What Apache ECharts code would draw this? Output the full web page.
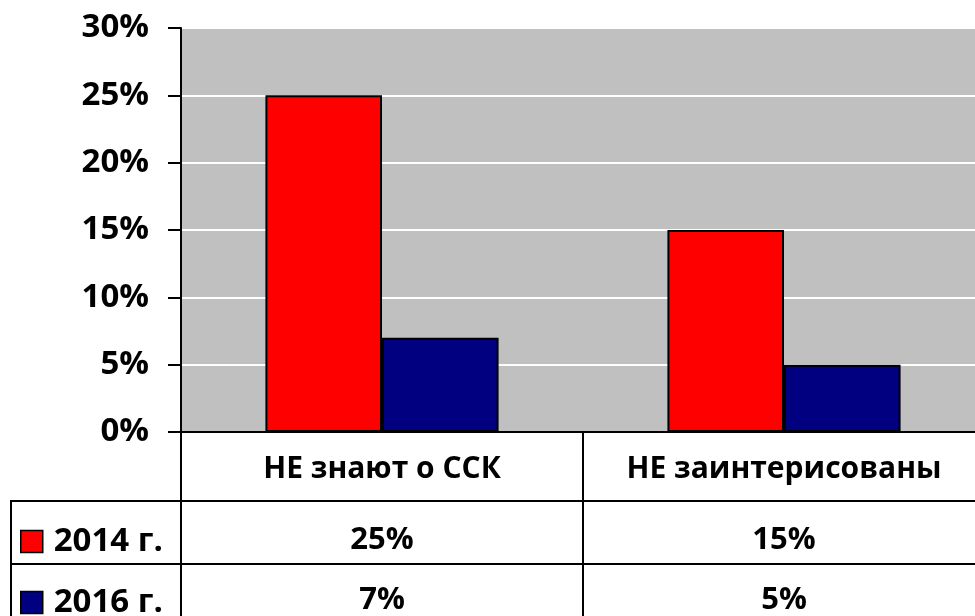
<!DOCTYPE html>
<html><head><meta charset="utf-8">
<script src="https://cdn.jsdelivr.net/npm/echarts@6/dist/echarts.min.js"></script>
<style>html,body{margin:0;padding:0;background:#fff}#c{width:975px;height:616px}</style>
</head><body><div id="c"></div>
<script>
var categories = ['НЕ знают о ССК', 'НЕ заинтерисованы'];
var seriesNames = ['2014 г.', '2016 г.'];
var values2014 = [25, 15];
var values2016 = [7, 5];
var yTicks = { min: 0, max: 30, interval: 5 };

var FONT = 'Open Sans';
var FS = 30;
var chart = echarts.init(document.getElementById('c'));
var labelBase = { fontFamily: FONT, fontWeight: 'bold', fontSize: FS, color: '#000' };

chart.setOption({
  animation: false,
  grid: { left: 181, top: 28, width: 804, height: 404, outerBoundsMode: 'none', containLabel: false,
    show: true, backgroundColor: '#C0C0C0', borderColor: '#808080', borderWidth: 1 },
  legend: {
    orient: 'vertical', left: 20, top: 525, height: 120, itemWidth: 22, itemHeight: 22, itemGap: 28,
    padding: 0,
    icon: 'rect',
    itemStyle: { borderColor: '#000', borderWidth: 1.5 },
    textStyle: Object.assign({}, labelBase, { padding: [0, 0, 0, 6], lineHeight: 22, fontSize: 33 }),
    data: seriesNames
  },
  xAxis: [
    { type: 'category', data: categories, position: 'bottom',
      axisLine: { show: true, lineStyle: { color: '#000', width: 2 } },
      axisTick: { show: true, length: 190, lineStyle: { color: '#000', width: 2 } },
      axisLabel: Object.assign({ margin: 37, verticalAlign: 'middle', interval: 0 }, labelBase),
      splitLine: { show: false } },
    { type: 'category', data: categories, position: 'bottom', gridIndex: 0,
      axisLine: { show: false }, axisTick: { show: false },
      axisLabel: Object.assign({ margin: 108, verticalAlign: 'middle', interval: 0,
        formatter: function (v, i) { return values2014[i] + '%'; } }, labelBase, { fontSize: 31 }) },
    { type: 'category', data: categories, position: 'bottom', gridIndex: 0,
      axisLine: { show: false }, axisTick: { show: false },
      axisLabel: Object.assign({ margin: 168, verticalAlign: 'middle', interval: 0,
        formatter: function (v, i) { return values2016[i] + '%'; } }, labelBase, { fontSize: 31 }) }
  ],
  yAxis: {
    type: 'value', min: yTicks.min, max: yTicks.max, interval: yTicks.interval,
    axisLine: { show: true, lineStyle: { color: '#000', width: 2 } },
    axisTick: { show: true, length: 13, lineStyle: { color: '#000', width: 2 } },
    axisLabel: Object.assign({ margin: 32, formatter: '{value}%' }, labelBase, { fontSize: 33 }),
    splitLine: { show: true, lineStyle: { color: '#fff', width: 2 } }
  },
  series: [
    { name: seriesNames[0], type: 'bar', data: values2014, barGap: '0%', barCategoryGap: '42%',
      itemStyle: { color: '#FF0000', borderColor: '#000', borderWidth: 2 } },
    { name: seriesNames[1], type: 'bar', data: values2016, barGap: '0%', barCategoryGap: '42%',
      itemStyle: { color: '#000080', borderColor: '#000', borderWidth: 2 } }
  ],
  graphic: [
    { type: 'line', shape: { x1: 11, y1: 501, x2: 975, y2: 501 }, style: { stroke: '#000', lineWidth: 2 } },
    { type: 'line', shape: { x1: 11, y1: 564, x2: 975, y2: 564 }, style: { stroke: '#000', lineWidth: 2 } },
    { type: 'line', shape: { x1: 11, y1: 500, x2: 11, y2: 616 }, style: { stroke: '#000', lineWidth: 2 } }
  ]
});
</script></body></html>
